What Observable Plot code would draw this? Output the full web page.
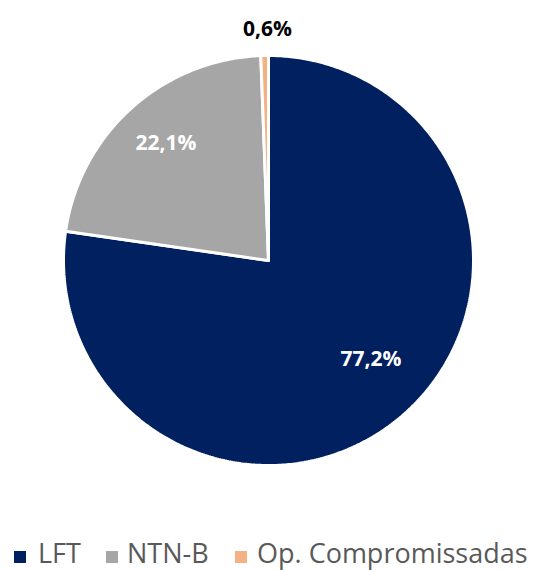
<!DOCTYPE html>
<html><head><meta charset="utf-8">
<script src="https://cdn.jsdelivr.net/npm/d3@7"></script>
<script src="https://cdn.jsdelivr.net/npm/@observablehq/plot@0.6"></script>
<style>
body{margin:0;background:#fff;font-family:"Open Sans",sans-serif;}
#legend{position:absolute;left:0;top:530px;}
</style></head>
<body>
<div id="chart"></div>
<div id="legend"></div>
<script>
const categories = ["LFT", "NTN-B", "Op. Compromissadas"];
const values = [77.2, 22.1, 0.6];
const labels = ["77,2%", "22,1%", "0,6%"];
const colors = ["#002060", "#a6a6a6", "#f4b183"];

const pie = d3.pie().sort(null).value(d => d)(values);
const pts = [];
pie.forEach((a, i) => {
  const n = Math.max(4, Math.ceil((a.endAngle - a.startAngle) / 0.01));
  pts.push({name: categories[i], x: 0, y: 0});
  for (let k = 0; k <= n; k++) {
    const t = a.startAngle + (a.endAngle - a.startAngle) * k / n;
    pts.push({name: categories[i], x: Math.sin(t), y: Math.cos(t)});
  }
  pts.push({name: categories[i], x: 0, y: 0});
});
const labelPos = [
  {label: labels[0], x: 0.5, y: -0.48, fill: "white"},
  {label: labels[1], x: -0.50, y: 0.57, fill: "white"},
  {label: labels[2], x: -0.005, y: 1.13, fill: "black"}
];

const marks = categories.map((c, i) =>
  Plot.line(pts.filter(p => p.name === c), {x: "x", y: "y", fill: colors[i], stroke: "white", strokeWidth: 3, strokeLinejoin: "miter", curve: "linear"})
);
marks.push(Plot.text(labelPos, {x: "x", y: "y", text: "label", fill: "fill", fontSize: 21, fontWeight: "bold", fontFamily: "Open Sans"}));

const chart = Plot.plot({
  width: 534, height: 530,
  margin: 0,
  x: {domain: [-1, 1], range: [63, 473], axis: null},
  y: {domain: [-1, 1], range: [465, 55], axis: null},
  marks
});
document.getElementById("chart").appendChild(chart);

// legend
const lgX = [{sw: 14, tx: 38}, {sw: 106, tx: 127}, {sw: 235, tx: 257}];
const svg = d3.select("#legend").append("svg").attr("width", 534).attr("height", 40);
categories.forEach((c, i) => {
  svg.append("rect").attr("x", lgX[i].sw).attr("y", 21).attr("width", 12).attr("height", 12).attr("fill", colors[i]);
  svg.append("text").attr("x", lgX[i].tx).attr("y", 33).attr("font-family", "Open Sans").attr("font-size", 27).attr("fill", "#595959").text(c);
});
</script>
</body></html>
